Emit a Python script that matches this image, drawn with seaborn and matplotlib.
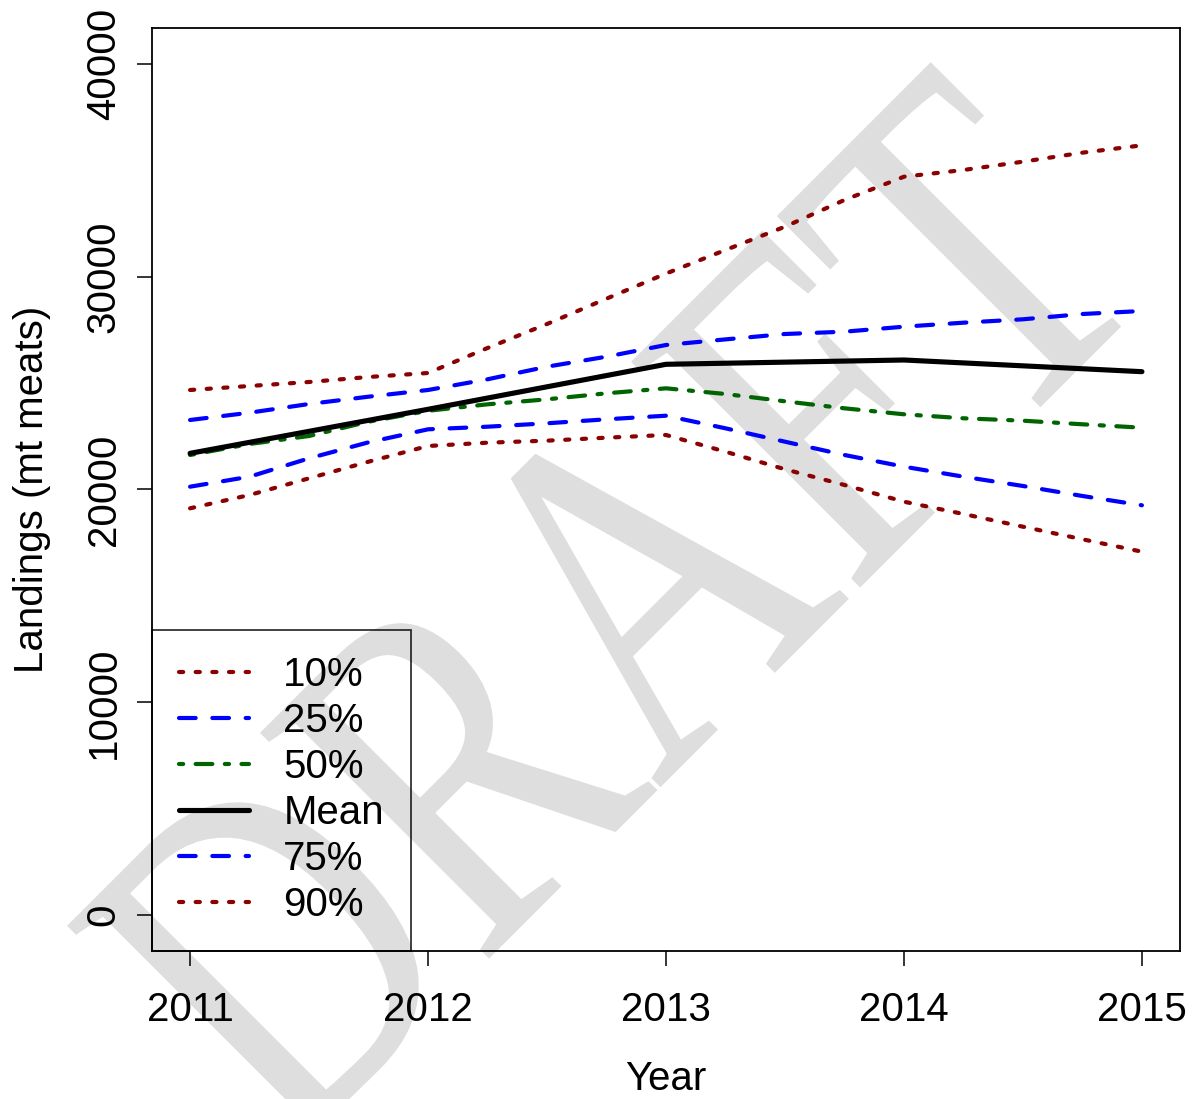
import numpy as np
import pandas as pd
import matplotlib
matplotlib.use("Agg")
import matplotlib.pyplot as plt
from matplotlib.patheffects import AbstractPathEffect
from matplotlib.transforms import Affine2D
import seaborn as sns

# Projected landings: mean by year, percentiles at quarter-year steps
years = [2011, 2012, 2013, 2014, 2015]
mean_landings = [21700, 23770, 25885, 26087, 25538]

quarters = [2011.0, 2011.25, 2011.5, 2011.75,
            2012.0, 2012.25, 2012.5, 2012.75,
            2013.0, 2013.25, 2013.5, 2013.75,
            2014.0, 2014.25, 2014.5, 2014.75,
            2015.0]
p10 = [19116, 19742, 20526, 21307, 22045, 22201, 22295, 22436, 22562,
       21777, 20950, 20212, 19427, 18849, 18252, 17660, 17077]
p25 = [20132, 20602, 21466, 22218, 22829, 22952, 23112, 23300, 23469,
       22876, 22247, 21622, 21073, 20602, 20165, 19695, 19258]
p50 = [21622, 22139, 22515, 23187, 23700, 24004, 24239, 24521, 24756,
       24489, 24145, 23816, 23535, 23347, 23234, 23065, 22905]
p75 = [23267, 23610, 24019, 24363, 24677, 25180, 25773, 26243, 26792,
       27056, 27309, 27418, 27653, 27841, 28000, 28249, 28390]
p90 = [24677, 24865, 25053, 25288, 25476, 26651, 27779, 28970, 30150,
       31258, 32353, 33608, 34702, 35018, 35409, 35832, 36177]

x_ticks = [2011, 2012, 2013, 2014, 2015]
y_ticks = [0, 10000, 20000, 30000, 40000]
legend_labels = ["10%", "25%", "50%", "Mean", "75%", "90%"]

sns.set_theme(style="white")
plt.rcParams["font.family"] = ["Liberation Sans", "DejaVu Sans"]

FS = 29


class TallGlyphs(AbstractPathEffect):
    """Stretch glyphs along the text's own vertical axis, about a fixed point."""

    def __init__(self, fig, anchor, angle, stretch):
        super().__init__()
        self.fig = fig
        self.anchor = anchor
        self.angle = angle
        self.stretch = stretch

    def draw_path(self, renderer, gc, tpath, affine, rgbFace=None):
        cx, cy = self.fig.transFigure.transform(self.anchor)
        extra = (Affine2D().translate(-cx, -cy).rotate_deg(-self.angle)
                 .scale(1.0, self.stretch).rotate_deg(self.angle)
                 .translate(cx, cy))
        renderer.draw_path(gc, tpath, affine + extra, rgbFace)


fig = plt.figure(figsize=(11.94, 10.99), dpi=100)
ax = fig.add_axes([152 / 1194, 1 - 951 / 1099, (1180 - 152) / 1194, (951 - 28) / 1099])
ax.set_facecolor("none")

# Watermark, placed beneath the axes
wm_pos = (0.537, 0.418)
wm_angle = 45
fig.text(wm_pos[0], wm_pos[1], "DRAFT", fontsize=272, family="Liberation Serif",
         color="#dedede", rotation=wm_angle, ha="center", va="center",
         rotation_mode="anchor", zorder=-1,
         path_effects=[TallGlyphs(fig, wm_pos, wm_angle, 1.3)])

dark_red = "#8b0000"
dark_green = "#006400"
lw = 3.0
q = pd.DataFrame({"t": quarters, "p10": p10, "p25": p25, "p50": p50, "p75": p75, "p90": p90})
m = pd.DataFrame({"t": years, "mean": mean_landings})

styles = {
    "p10": (dark_red, (0, (1, 3)), lw),
    "p25": ("blue", (0, (4, 4)), lw),
    "p50": (dark_green, (0, (1, 3, 4, 3)), lw),
    "mean": ("black", "-", 3.7),
    "p75": ("blue", (0, (4, 4)), lw),
    "p90": (dark_red, (0, (1, 3)), lw),
}

for key, lab in zip(["p10", "p25", "p50", "mean", "p75", "p90"], legend_labels):
    col, ls, w = styles[key]
    df = m if key == "mean" else q
    sns.lineplot(data=df, x="t", y=key, ax=ax, color=col, linewidth=w,
                 linestyle=ls, dash_capstyle="round", solid_capstyle="round",
                 zorder=3, label=lab)

ax.set_xlim(2010.84, 2015.16)
ax.set_ylim(-1692, 41692)
ax.set_xticks(x_ticks)
ax.set_xticklabels([str(v) for v in x_ticks])
ax.set_yticks(y_ticks)
ax.set_yticklabels([str(v) for v in y_ticks], rotation=90, va="center")

for s in ax.spines.values():
    s.set_color("black")
    s.set_linewidth(1.3)

ax.tick_params(axis="both", which="both", direction="out", length=11, width=1.1,
               color="black", labelsize=FS, labelcolor="black")
ax.tick_params(axis="x", pad=18, bottom=True)
ax.tick_params(axis="y", pad=10, left=True)

ax.set_xlabel("Year", fontsize=FS, color="black", labelpad=22)
ax.set_ylabel("Landings (mt meats)", fontsize=FS, color="black", labelpad=24)

leg = ax.legend(loc="lower left", bbox_to_anchor=(0, 0), fontsize=FS,
                frameon=True, fancybox=False, borderaxespad=0,
                handlelength=1.75, handletextpad=0.85, labelspacing=0.2,
                borderpad=0.66)
leg.get_frame().set_facecolor("none")
leg.get_frame().set_edgecolor("black")
leg.get_frame().set_linewidth(1.3)
for t in leg.get_texts():
    t.set_color("black")

fig.savefig("out.png", dpi=100)
